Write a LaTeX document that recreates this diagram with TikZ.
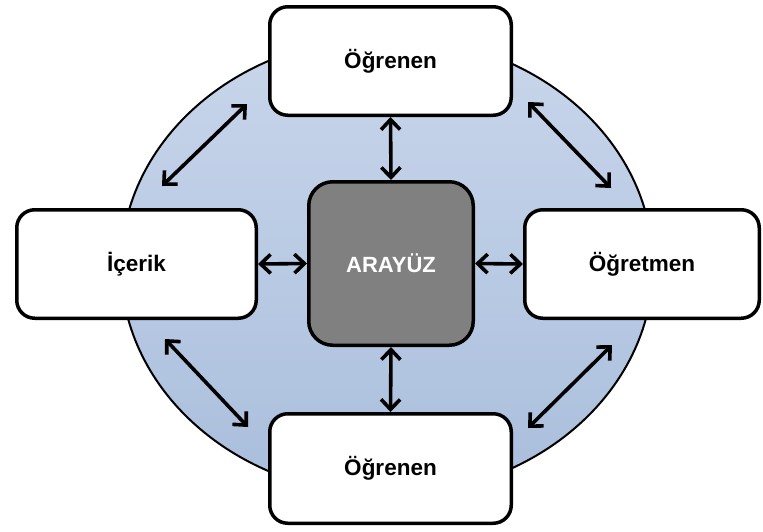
\documentclass[tikz,border=0pt]{standalone}
\usepackage{fontspec}
\setmainfont{Liberation Sans}
\usetikzlibrary{arrows.meta}
\definecolor{ellTop}{HTML}{C9D6EB}
\definecolor{ellBot}{HTML}{A9BEDC}
\definecolor{hubGray}{HTML}{808080}
\tikzset{
  boxnode/.style={draw=black, line width=3.5pt, fill=white, rounded corners=18pt,
    font=\fontsize{22.5}{26}\selectfont\bfseries, inner sep=0pt},
  hubnode/.style={draw=black, line width=3.5pt, fill=hubGray, rounded corners=24pt,
    font=\fontsize{22}{26}\selectfont\bfseries, text=white, inner sep=0pt,
    minimum width=164.5pt, minimum height=163.5pt},
  dblarrow/.style={line width=3.6pt, {Straight Barb[length=10pt,width=19pt]}-{Straight Barb[length=10pt,width=19pt]}}
}
\begin{document}
\begin{tikzpicture}[x=1pt,y=-1pt]
\useasboundingbox (0,0) rectangle (763,531);
% background ellipse
\shade[top color=ellTop, bottom color=ellBot] (387,266) ellipse [x radius=266pt, y radius=229pt];
\draw[line width=2pt] (387,266) ellipse [x radius=266pt, y radius=229pt];
% nodes
\node[boxnode, minimum width=241.5pt, minimum height=108.5pt] (top) at (390.5,61) {Öğrenen};
\node[boxnode, minimum width=239.5pt, minimum height=108.5pt] (left) at (136.5,264) {İçerik};
\node[boxnode, minimum width=234.5pt, minimum height=108.5pt] (right) at (642,264) {Öğretmen};
\node[boxnode, minimum width=241.5pt, minimum height=109.5pt] (bottom) at (390.5,468.5) {Öğrenen};
\node[hubnode] (hub) at (391,263.5) {ARAYÜZ};
% straight connectors
\draw[dblarrow] (top.south) -- (hub.north);
\draw[dblarrow] (hub.south) -- (bottom.north);
\draw[dblarrow] (left.east) -- (hub.west);
\draw[dblarrow] (hub.east) -- (right.east -| right.west);
% diagonal connectors
\coordinate (tlA) at (162,186);
\coordinate (tlB) at (247,104);
\coordinate (trA) at (528,102);
\coordinate (trB) at (611,188);
\coordinate (blA) at (165,339);
\coordinate (blB) at (248,427);
\coordinate (brA) at (528,428);
\coordinate (brB) at (612,345);
\draw[dblarrow] (tlA) -- (tlB);
\draw[dblarrow] (trA) -- (trB);
\draw[dblarrow] (blA) -- (blB);
\draw[dblarrow] (brA) -- (brB);
\end{tikzpicture}
\end{document}
